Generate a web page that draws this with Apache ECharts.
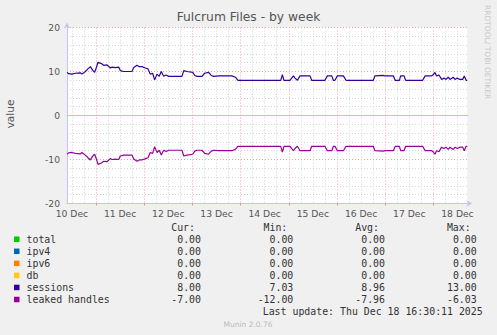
<!DOCTYPE html>
<html>
<head>
<meta charset="utf-8">
<script src="https://cdn.jsdelivr.net/npm/echarts@6/dist/echarts.min.js"></script>
<style>
html,body{margin:0;padding:0;background:#f0f0f0;}
#c{width:497px;height:335px;}
</style>
</head>
<body>
<div id="c"></div>
<script>
// ---- data (hours since 10 Dec 00:00) ----
var hours = [9.56,10.4,12.05,13.7,16.2,17.0,18.7,20.0,21.2,22.3,
  23.3,24.2,25.0,26.7,27.8,29.5,31.1,32.0,33.6,35.3,
  36.1,37.8,41.9,42.8,44.4,45.6,46.9,48.6,49.9,51.0,
  52.2,53.2,54.4,55.5,56.5,57.7,58.9,60.2,66.8,67.7,
  69.3,72.2,73.2,74.3,76.8,78.1,80.1,81.4,82.6,85.1,
  91.7,93.4,94.7,116.0,116.8,117.6,120.6,122.3,123.1,124.3,
  125.6,130.6,131.4,138.0,139.2,141.4,142.2,143.0,144.2,147.2,
  148.5,162.1,162.9,167.1,168.0,172.1,173.0,175.1,175.7,177.4,
  178.2,186.7,187.9,191.2,192.0,192.8,193.6,194.8,196.1,197.3,
  198.3,199.4,200.3,201.9,202.8,203.9,205.2,206.6,207.4,208.3,
  208.9];
var sessions = [9.8,9.5,9.4,9.6,9.7,9.4,10.0,10.6,11.1,10.3,
  9.8,10.9,12.1,11.8,11.4,11.5,10.8,11.0,10.9,11.0,
  10.2,10.0,10.0,10.9,11.4,11.1,11.1,10.8,10.6,9.4,
  9.6,8.1,9.4,8.9,10.0,8.9,9.2,8.9,8.9,10.2,
  10.0,9.8,9.1,8.9,8.9,9.6,9.8,9.1,8.9,9.0,
  9.0,8.7,8.0,8.0,9.3,8.0,8.0,9.0,8.5,8.0,
  9.0,9.0,8.0,8.0,9.0,9.0,8.0,8.0,9.0,9.0,
  8.0,8.0,9.0,9.1,9.0,9.0,8.0,8.0,9.0,9.0,
  8.0,8.0,9.0,9.0,9.3,9.8,9.0,9.2,8.2,8.5,
  8.2,8.7,8.2,8.7,8.2,8.5,8.2,8.2,9.0,8.0,
  8.0];
var leaked = [-8.8,-8.5,-8.4,-8.6,-8.7,-8.4,-9.0,-9.6,-10.1,-9.3,
  -8.8,-9.9,-11.1,-10.8,-10.4,-10.5,-9.8,-10.0,-9.9,-10.0,
  -9.2,-9.0,-9.0,-9.9,-10.4,-10.1,-10.1,-9.8,-9.6,-8.4,
  -8.6,-7.1,-8.4,-7.9,-9.0,-7.9,-8.2,-7.9,-7.9,-9.2,
  -9.0,-8.8,-8.1,-7.9,-7.9,-8.6,-8.8,-8.1,-7.9,-8.0,
  -8.0,-7.7,-7.0,-7.0,-8.3,-7.0,-7.0,-8.0,-7.5,-7.0,
  -8.0,-8.0,-7.0,-7.0,-8.0,-8.0,-7.0,-7.0,-8.0,-8.0,
  -7.0,-7.0,-8.0,-8.1,-8.0,-8.0,-7.0,-7.0,-8.0,-8.0,
  -7.0,-7.0,-8.0,-8.0,-8.3,-8.8,-8.0,-8.2,-7.2,-7.5,
  -7.2,-7.7,-7.2,-7.7,-7.2,-7.5,-7.2,-7.2,-8.0,-7.0,
  -7.0];
var zeroHours = [9.56, 208.9];
var zeroValues = [0, 0];
var timeMin = 9.56, timeMax = 208.9;
var midnights = [24,48,72,96,120,144,168,192];
var sixHours = [12,18,30,36,42,54,60,66,78,84,90,102,108,114,126,132,138,150,156,162,174,180,186,198,204];
var noons = [12,36,60,84,108,132,156,180,204];
var dayLabels = ['10 Dec','11 Dec','12 Dec','13 Dec','14 Dec','15 Dec','16 Dec','17 Dec','18 Dec'];

var seriesNames = ['total','ipv4','ipv6','db','sessions','leaked handles'];
var seriesColors = ['#00CC00','#0066B3','#FF8000','#FFCC00','#330099','#990099'];
var curVals = ['0.00','0.00','0.00','0.00','8.00','-7.00'];
var minVals = ['0.00','0.00','0.00','0.00','7.03','-12.00'];
var avgVals = ['0.00','0.00','0.00','0.00','8.96','-7.96'];
var maxVals = ['0.00','0.00','0.00','0.00','13.00','-6.03'];
var titleText = 'Fulcrum Files - by week';
var lastUpdate = 'Last update: Thu Dec 18 16:30:11 2025';
var munin = 'Munin 2.0.76';
var rrdText = 'RRDTOOL/ TOBI OETIKER';

function zip(xs, ys){ return xs.map(function(x,i){ return [x, ys[i]]; }); }

var chart = echarts.init(document.getElementById('c'), null, {renderer:'svg'});

var series = [];
var allSeriesData = [
  zip(zeroHours, zeroValues), zip(zeroHours, zeroValues), zip(zeroHours, zeroValues), zip(zeroHours, zeroValues),
  zip(hours, sessions), zip(hours, leaked)
];
for (var i = 0; i < seriesNames.length; i++) {
  series.push({
    name: seriesNames[i], type: 'line', data: allSeriesData[i],
    showSymbol: false, symbol: 'none', animation: false,
    lineStyle: {color: seriesColors[i], width: i < 4 ? 1 : 1.2},
    itemStyle: {color: seriesColors[i]},
    z: 3 + i
  });
}

var mono = '"DejaVu Sans Mono", monospace';
var sans = '"DejaVu Sans", sans-serif';
var graphics = [];
graphics.push({type:'text', left: 'center', top: 11, style:{text:titleText, font:'12.3px ' + sans, fill:'#555'}});
graphics.push({type:'text', x: 10, y: 114, rotation: Math.PI/2, style:{text:'value', font:'10.5px ' + sans, fill:'#555', align:'center', verticalAlign:'middle'}});
graphics.push({type:'text', x: 487.5, y: 5, rotation: -Math.PI/2, style:{text:rrdText, font:'7.5px ' + sans, fill:'#c8c8c8', align:'left', verticalAlign:'middle'}});

var colRight = [201, 293.3, 385, 476.7];
var headers = ['Cur:','Min:','Avg:','Max:'];
for (var h = 0; h < 4; h++) {
  graphics.push({type:'text', x: colRight[h] - 6, y: 227.7, style:{text:headers[h], font:'9.9px ' + mono, fill:'#333', align:'right', verticalAlign:'middle'}});
}
for (var r = 0; r < seriesNames.length; r++) {
  var yy = 239.5 + r * 12.05;
  graphics.push({type:'rect', shape:{x:14, y:yy-3, width:5.5, height:5.5}, style:{fill:seriesColors[r]}});
  graphics.push({type:'text', x: 26.5, y: yy, style:{text:seriesNames[r], font:'9.9px ' + mono, fill:'#333', align:'left', verticalAlign:'middle'}});
  var vals = [curVals[r], minVals[r], avgVals[r], maxVals[r]];
  for (var c = 0; c < 4; c++) {
    graphics.push({type:'text', x: colRight[c], y: yy, style:{text:vals[c], font:'9.9px ' + mono, fill:'#333', align:'right', verticalAlign:'middle'}});
  }
}
graphics.push({type:'text', x: 482.7, y: 311.7, style:{text:lastUpdate, font:'9.9px ' + mono, fill:'#333', align:'right', verticalAlign:'middle'}});
graphics.push({type:'text', x: 248, y: 324, style:{text:munin, font:'7.5px ' + sans, fill:'#bbb', align:'center', verticalAlign:'middle'}});

var axisColor = '#c4c4f4';
var option = {
  backgroundColor: '#f0f0f0',
  animation: false,
  grid: {left: 67, top: 27.5, width: 400.3, height: 176, show: true, backgroundColor: '#ffffff', borderWidth: 0},
  xAxis: [
    {
      type: 'value', min: timeMin, max: timeMax, position: 'bottom',
      axisLine: {show: true, onZero: false, lineStyle: {color: axisColor, width: 1}, symbol: ['none','arrow'], symbolSize: [5,6], symbolOffset: [0,5]},
      axisTick: {show: true, customValues: midnights, length: 2, lineStyle: {color: '#e09090'}},
      splitLine: {show: true, customValues: midnights, lineStyle: {color: '#e8a8a8', width: 1, type: [1,2]}},
      axisLabel: {show: true, customValues: noons, fontSize: 9.2, fontFamily: sans, color: '#555', margin: 5,
        formatter: function(v){ var k = noons.indexOf(Math.round(v)); return k >= 0 ? dayLabels[k] : ''; }}
    },
    {
      type: 'value', min: timeMin, max: timeMax, position: 'bottom',
      axisLine: {show: false, onZero: false},
      axisTick: {show: false, customValues: sixHours},
      axisLabel: {show: false},
      splitLine: {show: true, customValues: sixHours, lineStyle: {color: '#d4d4d4', width: 1, type: [1,2]}}
    }
  ],
  yAxis: {
    type: 'value', min: -20, max: 20, interval: 10,
    axisLine: {show: true, onZero: false, lineStyle: {color: axisColor, width: 1}, symbol: ['none','arrow'], symbolSize: [5,6], symbolOffset: [0,5]},
    axisTick: {show: false},
    axisLabel: {fontSize: 9.2, fontFamily: sans, color: '#555', margin: 7},
    splitLine: {show: true, lineStyle: {color: '#e8a8a8', width: 1, type: [1,2]}},
    minorTick: {show: false, splitNumber: 5},
    minorSplitLine: {show: true, lineStyle: {color: '#d4d4d4', width: 1, type: [1,2]}}
  },
  series: series,
  graphic: graphics
};
chart.setOption(option);
</script>
</body>
</html>
